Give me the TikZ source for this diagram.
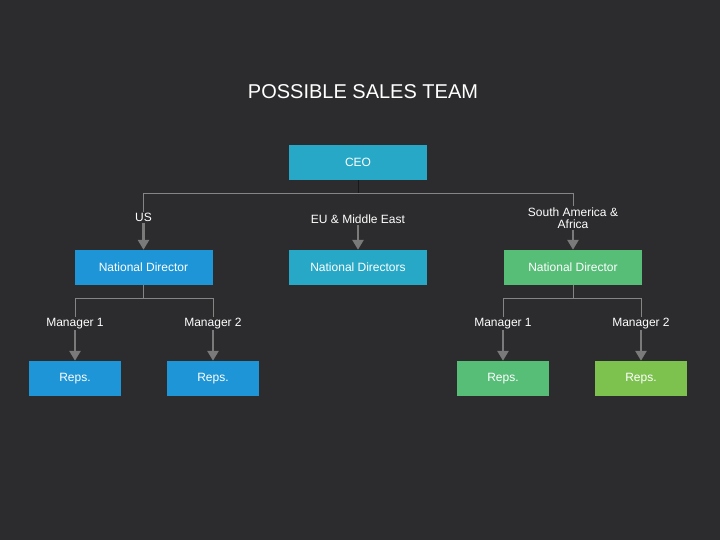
\documentclass[tikz,border=0pt]{standalone}
\usepackage{fontspec}
\setmainfont{Liberation Sans}
\usetikzlibrary{arrows.meta}
\definecolor{bg}{HTML}{2C2C2E}
\definecolor{teal}{HTML}{27A8C7}
\definecolor{bluebox}{HTML}{1E95D6}
\definecolor{greenbox}{HTML}{57BE78}
\definecolor{limebox}{HTML}{7DC24F}
\definecolor{linegray}{HTML}{858585}
\definecolor{arrowgray}{HTML}{7A7A7A}
\definecolor{stemdark}{HTML}{181818}
\tikzset{
  box/.style={minimum height=35pt, inner sep=0pt, text=white, font=\fontsize{12}{14}\selectfont},
  widebox/.style={box, minimum width=138pt},
  repbox/.style={box, minimum width=92pt},
  lab/.style={text=white, font=\fontsize{12}{14}\selectfont, inner sep=1pt, align=center},
  thin/.style={draw=linegray, line width=1pt},
  arr/.style={draw=arrowgray, line width=2.8pt, -{Triangle[width=11pt,length=10pt]}},
}
\begin{document}
\begin{tikzpicture}[x=1pt,y=-1pt]
\fill[bg] (0,0) rectangle (720,540);
\useasboundingbox (0,0) rectangle (720,540);
\node[text=white, font=\fontsize{20}{24}\selectfont, inner sep=0pt] (title) at (363,91.5) {POSSIBLE SALES TEAM};

\node[widebox, fill=teal] (ceo) at (358,162.5) {CEO};
\coordinate (bus) at (358,194);

\node[lab] (us) at (143.5,217.5) {US};
\node[lab] (eu) at (358,219.5) {EU \& Middle East};
\node[lab] (sa) at (573,218) {South America \&\\[-2pt]Africa};

\node[widebox, fill=bluebox] (ndus) at (143.5,267.5) {National Director};
\node[widebox, fill=teal] (ndeu) at (358,267.5) {National Directors};
\node[widebox, fill=greenbox] (ndsa) at (573,267.5) {National Director};

\node[lab] (m1us) at (75,323.5) {Manager 1};
\node[lab] (m2us) at (213,323.5) {Manager 2};
\node[lab] (m1sa) at (503,323.5) {Manager 1};
\node[lab] (m2sa) at (641,323.5) {Manager 2};

\node[repbox, fill=bluebox] (r1us) at (75,378.5) {Reps.};
\node[repbox, fill=bluebox] (r2us) at (213,378.5) {Reps.};
\node[repbox, fill=greenbox] (r1sa) at (503,378.5) {Reps.};
\node[repbox, fill=limebox] (r2sa) at (641,378.5) {Reps.};

% top level
\draw[draw=stemdark, line width=1pt] (ceo.south) -- (bus);
\draw[thin] (us.north) -- (us.north |- bus) -- (sa.north |- bus) -- (sa.north);
\draw[arr] (us.south) -- (us.south |- ndus.north);
\draw[arr] (eu.south) -- (eu.south |- ndeu.north);
\draw[arr] (sa.south) -- (sa.south |- ndsa.north);

% US branch
\coordinate (busus) at (143.5,298);
\draw[thin] (ndus.south) -- (busus);
\draw[thin] (m1us.north) -- (m1us.north |- busus) -- (m2us.north |- busus) -- (m2us.north);
\draw[arr] (m1us.south) -- (m1us.south |- r1us.north);
\draw[arr] (m2us.south) -- (m2us.south |- r2us.north);

% SA branch
\coordinate (bussa) at (573,298);
\draw[thin] (ndsa.south) -- (bussa);
\draw[thin] (m1sa.north) -- (m1sa.north |- bussa) -- (m2sa.north |- bussa) -- (m2sa.north);
\draw[arr] (m1sa.south) -- (m1sa.south |- r1sa.north);
\draw[arr] (m2sa.south) -- (m2sa.south |- r2sa.north);
\end{tikzpicture}
\end{document}
